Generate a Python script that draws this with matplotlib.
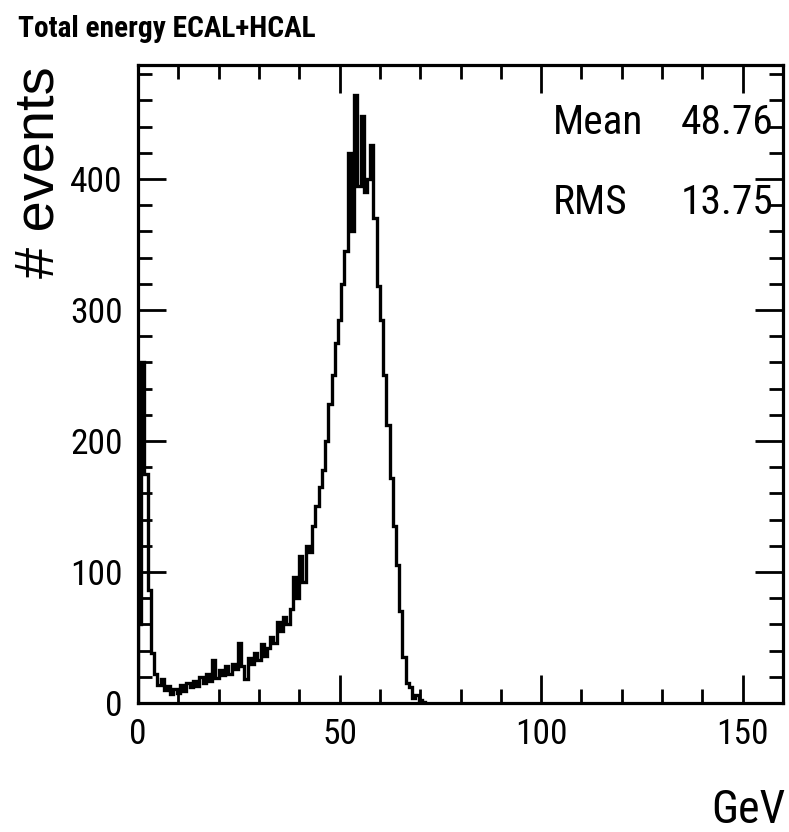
import numpy as np
import matplotlib
matplotlib.use("Agg")
import matplotlib.pyplot as plt
from matplotlib import font_manager as fm
from matplotlib.font_manager import FontProperties
from matplotlib.ticker import MultipleLocator, FixedLocator

# ---------------- data ----------------
bin_width = 0.8          # GeV per bin (200 bins over 0-160 GeV)
counts = [60, 260, 175, 86, 38, 22, 14, 18, 10, 13,
          7, 11, 8, 14, 9, 15, 12, 17, 13, 20,
          15, 22, 17, 33, 19, 25, 21, 28, 22, 30,
          26, 46, 28, 18, 34, 30, 38, 33, 45, 36,
          42, 50, 46, 62, 55, 66, 60, 72, 96, 80,
          112, 92, 120, 115, 135, 150, 165, 178, 200, 228,
          250, 275, 292, 320, 345, 420, 360, 464, 395, 448,
          390, 400, 426, 370, 318, 292, 250, 212, 172, 135,
          105, 70, 35, 15, 12, 4, 6, 2, 1]
x_limits = [0, 160]
y_limits = [0, 487]
x_major = [0, 50, 100, 150]
y_major = [0, 100, 200, 300, 400]
stat_names = ["Mean", "RMS"]
stat_values = ["48.76", "13.75"]
title = "Total energy ECAL+HCAL"
x_label = "GeV"
y_label = "# events"

# ---------------- fonts: look for a condensed sans ----------------
def pick_condensed(bold):
    prefs = ["Liberation Sans Narrow", "Arial Narrow", "Roboto Condensed",
             "Open Sans Condensed", "Noto Sans Condensed", "Noto Sans",
             "Open Sans", "Roboto", "DejaVu Sans Condensed", "DejaVu Sans"]
    best = None
    for f in fm.fontManager.ttflist:
        nm = f.name
        st = str(f.stretch).lower()
        cond = ("narrow" in nm.lower() or "condensed" in nm.lower()
                or st in ("condensed", "semi-condensed", "extra-condensed", "ultra-condensed")
                or "condensed" in f.fname.lower() or "narrow" in f.fname.lower())
        if not cond:
            continue
        low = f.fname.lower()
        if any(b in low for b in ("mono", "serif", "cjk", "italic", "oblique")) and "sans" not in nm.lower():
            continue
        if "italic" in low or "oblique" in low or str(f.style) != "normal":
            continue
        if "extracondensed" in low.replace("-", "") or "semicondensed" in low.replace("-", ""):
            continue
        w = f.weight if isinstance(f.weight, int) else (700 if "bold" in str(f.weight) else 400)
        if bold and w != 700:
            continue
        if not bold and w != 400:
            continue
        rank = len(prefs)
        for i, p in enumerate(prefs):
            if nm == p or nm.startswith(p):
                rank = i
                break
        if best is None or rank < best[0]:
            best = (rank, f.fname)
    return best[1] if best else None

reg_file = pick_condensed(False)
bold_file = pick_condensed(True)

def fp(bold=False, size=12):
    f = bold_file if bold else reg_file
    if f:
        return FontProperties(fname=f, size=size)
    return FontProperties(family=["Liberation Sans", "DejaVu Sans"],
                          weight="bold" if bold else "normal", size=size)

W, H = 789, 832
fig = plt.figure(figsize=(W / 100, H / 100), dpi=100)
fig.patch.set_facecolor("white")
renderer = fig.canvas.get_renderer()

def fit_size(text, target, prop_maker, along="w", rotation=0):
    t = fig.text(0, 0, text, fontproperties=prop_maker(10), rotation=rotation)
    bb = t.get_window_extent(renderer)
    t.remove()
    cur = bb.width if along == "w" else bb.height
    return 10 * target / cur

L, R, T, B = 138, 783, 65, 703
ax = fig.add_axes([L / W, (H - B) / H, (R - L) / W, (B - T) / H])

edges = np.arange(len(counts) + 1) * bin_width
ax.stairs(counts, edges, baseline=0, color="black", linewidth=2.4)

ax.set_xlim(*x_limits)
ax.set_ylim(*y_limits)
ax.xaxis.set_major_locator(FixedLocator(x_major))
ax.xaxis.set_minor_locator(MultipleLocator(10))
ax.yaxis.set_major_locator(FixedLocator(y_major))
ax.yaxis.set_minor_locator(MultipleLocator(20))

for s in ax.spines.values():
    s.set_linewidth(2.3)
ax.tick_params(which="both", direction="in", top=True, right=True, width=2.0)
ax.tick_params(which="major", length=20)
ax.tick_params(which="minor", length=10)
ax.tick_params(axis="x", which="major", pad=11)
ax.tick_params(axis="y", which="major", pad=11)

tick_size = fit_size("400", 52, lambda s: fp(False, s))
ax.set_xticks(x_major)
ax.set_xticklabels([str(v) for v in x_major], fontproperties=fp(False, tick_size))
ax.set_yticks(y_major)
ax.set_yticklabels([str(v) for v in y_major], fontproperties=fp(False, tick_size))

title_size = fit_size(title, 297, lambda s: fp(True, s))
fig.text(18 / W, (H - 37) / H, title, ha="left", va="baseline",
         fontproperties=fp(True, title_size))

ylab_prop = lambda s: FontProperties(family=["Liberation Sans", "DejaVu Sans"], size=s)
ylab_size = fit_size(y_label, 212, ylab_prop, along="h", rotation=90)
fig.text(40 / W, (H - 66) / H, y_label, rotation=90, ha="center", va="top",
         fontproperties=ylab_prop(ylab_size))

gev_size = fit_size(x_label, 74, lambda s: fp(False, s))
fig.text(785 / W, (H - 823) / H, x_label, ha="right", va="baseline",
         fontproperties=fp(False, gev_size))

stat_size = fit_size("48.76", 92, lambda s: fp(False, s))
for i, (nm, val) in enumerate(zip(stat_names, stat_values)):
    yb = [134, 214][i]
    fig.text(553 / W, (H - yb) / H, nm, ha="left", va="baseline",
             fontproperties=fp(False, stat_size))
    fig.text(773 / W, (H - yb) / H, val, ha="right", va="baseline",
             fontproperties=fp(False, stat_size))

fig.savefig("out.png", dpi=100, facecolor="white")
